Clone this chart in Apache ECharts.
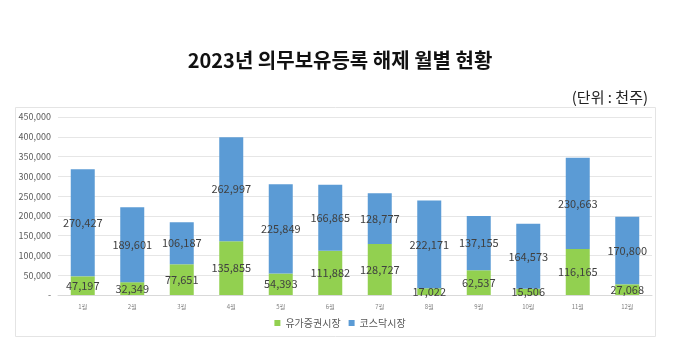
<!DOCTYPE html>
<html>
<head>
<meta charset="utf-8">
<script src="https://cdn.jsdelivr.net/npm/echarts@6/dist/echarts.min.js"></script>
<style>
  html, body { margin: 0; padding: 0; background: #ffffff; }
  #chart { width: 680px; height: 349px; }
</style>
</head>
<body>
<div id="chart"></div>
<script>
// 월별 의무보유등록 해제 주식수 (단위: 천주)
const months = ['1월', '2월', '3월', '4월', '5월', '6월', '7월', '8월', '9월', '10월', '11월', '12월'];
const kospi = [47197, 32349, 77651, 135855, 54393, 111882, 128727, 17022, 62537, 15506, 116165, 27068];
const kosdaq = [270427, 189601, 106187, 262997, 225849, 166865, 128777, 222171, 137155, 164573, 230663, 170800];
const yTicks = [0, 50000, 100000, 150000, 200000, 250000, 300000, 350000, 400000, 450000];

const fmt = v => v === 0 ? '-' : v.toLocaleString('en-US');
const FONT = '"Noto Sans CJK KR", "Noto Sans", sans-serif';

const chart = echarts.init(document.getElementById('chart'), null, { renderer: 'canvas' });

const labelStyle = {
  show: true,
  position: 'inside',
  color: '#404040',
  fontSize: 11,
  fontFamily: FONT,
  formatter: p => fmt(p.value)
};

chart.setOption({
  animation: false,
  backgroundColor: '#ffffff',
  textStyle: { fontFamily: FONT },
  title: [
    {
      text: '2023년 의무보유등록 해제 월별 현황',
      left: 'center',
      top: 45,
      textStyle: { fontSize: 20, fontWeight: 'bold', color: '#111111', fontFamily: FONT }
    },
    {
      text: '(단위 : 천주)',
      right: 27,
      top: 85,
      textStyle: { fontSize: 15, fontWeight: 'normal', color: '#222222', fontFamily: FONT }
    }
  ],
  graphic: [
    {
      type: 'rect',
      shape: { x: 15.5, y: 107.5, width: 640, height: 229 },
      style: { fill: 'none', stroke: '#e4e4e4', lineWidth: 1 },
      silent: true,
      z: -1
    }
  ],
  legend: {
    bottom: 16,
    left: 'center',
    itemWidth: 6,
    itemHeight: 6,
    itemGap: 8,
    icon: 'rect',
    textStyle: { fontSize: 10, color: '#595959', fontFamily: FONT },
    data: ['유가증권시장', '코스닥시장']
  },
  grid: { left: 58, right: 28, top: 117, bottom: 54, containLabel: false },
  xAxis: {
    type: 'category',
    data: months,
    axisLine: { show: true, lineStyle: { color: '#d9d9d9' } },
    axisTick: { show: false },
    axisLabel: { fontSize: 6, color: '#7f7f7f', margin: 9 }
  },
  yAxis: {
    type: 'value',
    min: yTicks[0],
    max: yTicks[yTicks.length - 1],
    interval: yTicks[1] - yTicks[0],
    axisLine: { show: false },
    axisTick: { show: false },
    splitLine: { lineStyle: { color: '#e6e6e6' } },
    axisLabel: {
      fontSize: 9,
      color: '#595959',
      margin: 7,
      formatter: v => fmt(v)
    }
  },
  series: [
    {
      name: '유가증권시장',
      type: 'bar',
      stack: 'total',
      barWidth: 24,
      data: kospi,
      itemStyle: { color: '#92d050' },
      label: labelStyle
    },
    {
      name: '코스닥시장',
      type: 'bar',
      stack: 'total',
      barWidth: 24,
      data: kosdaq,
      itemStyle: { color: '#5b9bd5' },
      label: labelStyle
    }
  ]
});
</script>
</body>
</html>
